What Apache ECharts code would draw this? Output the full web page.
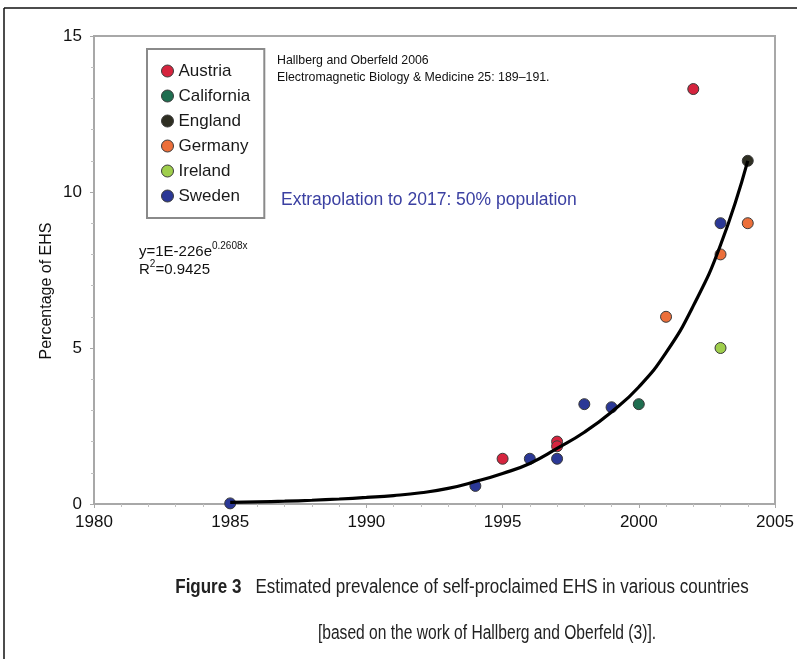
<!DOCTYPE html>
<html><head><meta charset="utf-8">
<script src="https://cdn.jsdelivr.net/npm/echarts@6/dist/echarts.min.js"></script>
<style>html,body{margin:0;padding:0;background:#fff}#c{width:797px;height:659px}</style>
</head><body><div id="c"></div>
<script>
const countries = ['Austria','California','England','Germany','Ireland','Sweden'];
const colors = ['#d6243e','#1f6e50','#2e2e22','#ec6f3a','#9fce4c','#2b3896'];
const austria = [[1995,1.45],[1997,2.0],[1997,1.85],[2002,13.3]];
const california = [[2000,3.2]];
const england = [[2004,11.0]];
const germany = [[2001,6.0],[2003,8.0],[2004,9.0]];
const ireland = [[2003,5.0]];
const sweden = [[1985,0.02],[1994,0.58],[1996,1.45],[1997,1.45],[1998,3.2],[1999,3.1],[2003,9.0]];
const trendYears = [1985,1986,1987,1988,1989,1990,1991,1992,1993,1994,1995,1996,1997,1998,1999,2000,2001,2002,2003,2004];
const trendValues = [0.05,0.07,0.09,0.12,0.16,0.21,0.27,0.36,0.5,0.72,0.98,1.3,1.78,2.3,2.95,3.75,4.85,6.35,8.3,11.0];
const seriesData = [austria, california, england, germany, ireland, sweden];

const chart = echarts.init(document.getElementById('c'));
const font = 'Liberation Sans, Arial, sans-serif';
const series = countries.map((n,i)=>({
  name:n, type:'scatter', data:seriesData[i], symbolSize:11,
  itemStyle:{color:colors[i], borderColor:'#3a3a3a', borderWidth:1, opacity:1}, z:3
}));
series.push({
  name:'trend', type:'line', data:trendYears.map((y,i)=>[y,trendValues[i]]),
  smooth:true, symbol:'none', lineStyle:{color:'#000', width:3.2}, z:4, silent:true
});
chart.setOption({
  animation:false,
  backgroundColor:'#fff',
  grid:{left:94,right:22,top:36,bottom:155,show:true,borderColor:'#a8a8a8',borderWidth:2},
  xAxis:{type:'value',min:1980,max:2005,interval:5,
    axisLine:{lineStyle:{color:'#a8a8a8',width:2}},
    axisTick:{show:true,length:4,lineStyle:{color:'#a8a8a8'}},
    minorTick:{show:true,splitNumber:5,length:3,lineStyle:{color:'#c0c0c0'}},
    splitLine:{show:false},
    axisLabel:{color:'#111',fontSize:17,fontFamily:font,margin:10,formatter:v=>String(v)}},
  yAxis:{type:'value',min:0,max:15,interval:5,
    axisLine:{show:true,lineStyle:{color:'#a8a8a8',width:2}},
    axisTick:{show:true,length:4,lineStyle:{color:'#a8a8a8'}},
    minorTick:{show:true,splitNumber:5,length:3,lineStyle:{color:'#c0c0c0'}},
    splitLine:{show:false},
    axisLabel:{color:'#111',fontSize:17,fontFamily:font,margin:12}},
  legend:{data:countries,orient:'vertical',left:147,top:49,
    padding:[12,14,12,14],itemGap:5,itemWidth:12,itemHeight:12,icon:'circle',
    borderColor:'#8a8a8a',borderWidth:2,backgroundColor:'#fff',
    textStyle:{color:'#1a1a1a',fontSize:17,fontFamily:font,lineHeight:20},
    itemStyle:{borderColor:'#3a3a3a',borderWidth:1}},
  series:series,
  graphic:[
    {type:'line',shape:{x1:4,y1:8,x2:797,y2:8},style:{stroke:'#111',lineWidth:1.5},silent:true},
    {type:'line',shape:{x1:4,y1:8,x2:4,y2:659},style:{stroke:'#111',lineWidth:1.5},silent:true},
    {type:'text',rotation:Math.PI/2,x:47,y:291,style:{text:'Percentage of EHS',font:'16px '+font,fill:'#111',align:'center',verticalAlign:'middle'}},
    {type:'text',x:277,y:52,scaleX:0.95,style:{text:'Hallberg and Oberfeld 2006\nElectromagnetic Biology & Medicine 25: 189–191.',font:'13px '+font,lineHeight:17,fill:'#111'}},
    {type:'text',x:281,y:200,style:{text:'Extrapolation to 2017: 50% population',font:'17.5px '+font,fill:'#3b40a2',verticalAlign:'middle'}},
    {type:'text',x:139,y:241,style:{rich:{b:{fontSize:15,fontFamily:font,lineHeight:18,verticalAlign:'bottom',fill:'#111'},s:{fontSize:10,fontFamily:font,lineHeight:10,verticalAlign:'top',fill:'#111'}},text:'{b|y=1E-226e}{s|0.2608x}\n{b|R}{s|2}{b|=0.9425}'}},
    {type:'text',x:462,y:587,scaleX:0.85,style:{rich:{f:{fontFamily:font,fontSize:20,fontWeight:'bold',fill:'#222'},t:{fontFamily:font,fontSize:20,fill:'#222'}},text:'{f|Figure 3}{t|   Estimated prevalence of self-proclaimed EHS in various countries}',align:'center',verticalAlign:'middle'}},
    {type:'text',x:487,y:633,scaleX:0.78,style:{text:'[based on the work of Hallberg and Oberfeld (3)].',font:'20px '+font,fill:'#222',align:'center',verticalAlign:'middle'}}
  ]
});
</script></body></html>
